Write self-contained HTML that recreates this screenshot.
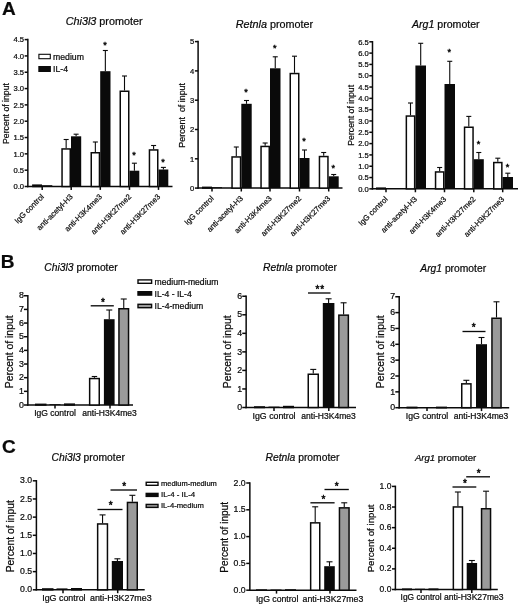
<!DOCTYPE html>
<html><head><meta charset="utf-8"><title>Figure</title>
<style>
html,body{margin:0;padding:0;background:#fff;}
body{width:520px;height:606px;overflow:hidden;font-family:"Liberation Sans",sans-serif;}
text{stroke:#0a0a0a;stroke-width:0.22px;}
svg{display:block;will-change:transform;filter:blur(0.4px);font-family:"Liberation Sans",sans-serif;}
</style></head><body>
<svg width="520" height="606" viewBox="0 0 520 606">
<rect x="0" y="0" width="520" height="606" fill="#ffffff"/>
<text xml:space="preserve" x="2.10" y="14.50" font-size="19" text-anchor="start" fill="#0a0a0a" font-weight="bold">A</text>
<text xml:space="preserve" x="0.75" y="268.10" font-size="19" text-anchor="start" fill="#0a0a0a" font-weight="bold">B</text>
<text xml:space="preserve" x="2.00" y="452.90" font-size="19" text-anchor="start" fill="#0a0a0a" font-weight="bold">C</text>
<line x1="27.85" y1="38.85" x2="27.85" y2="187.25" stroke="#0a0a0a" stroke-width="1.5"/>
<line x1="27.10" y1="186.50" x2="172.50" y2="186.50" stroke="#0a0a0a" stroke-width="1.5"/>
<line x1="24.65" y1="186.50" x2="27.85" y2="186.50" stroke="#0a0a0a" stroke-width="1.5"/>
<text xml:space="preserve" x="24.05" y="189.24" font-size="7.6" text-anchor="end" fill="#0a0a0a">0.0</text>
<line x1="24.65" y1="170.18" x2="27.85" y2="170.18" stroke="#0a0a0a" stroke-width="1.5"/>
<text xml:space="preserve" x="24.05" y="172.91" font-size="7.6" text-anchor="end" fill="#0a0a0a">0.5</text>
<line x1="24.65" y1="153.86" x2="27.85" y2="153.86" stroke="#0a0a0a" stroke-width="1.5"/>
<text xml:space="preserve" x="24.05" y="156.59" font-size="7.6" text-anchor="end" fill="#0a0a0a">1.0</text>
<line x1="24.65" y1="137.53" x2="27.85" y2="137.53" stroke="#0a0a0a" stroke-width="1.5"/>
<text xml:space="preserve" x="24.05" y="140.27" font-size="7.6" text-anchor="end" fill="#0a0a0a">1.5</text>
<line x1="24.65" y1="121.21" x2="27.85" y2="121.21" stroke="#0a0a0a" stroke-width="1.5"/>
<text xml:space="preserve" x="24.05" y="123.95" font-size="7.6" text-anchor="end" fill="#0a0a0a">2.0</text>
<line x1="24.65" y1="104.89" x2="27.85" y2="104.89" stroke="#0a0a0a" stroke-width="1.5"/>
<text xml:space="preserve" x="24.05" y="107.62" font-size="7.6" text-anchor="end" fill="#0a0a0a">2.5</text>
<line x1="24.65" y1="88.57" x2="27.85" y2="88.57" stroke="#0a0a0a" stroke-width="1.5"/>
<text xml:space="preserve" x="24.05" y="91.30" font-size="7.6" text-anchor="end" fill="#0a0a0a">3.0</text>
<line x1="24.65" y1="72.24" x2="27.85" y2="72.24" stroke="#0a0a0a" stroke-width="1.5"/>
<text xml:space="preserve" x="24.05" y="74.98" font-size="7.6" text-anchor="end" fill="#0a0a0a">3.5</text>
<line x1="24.65" y1="55.92" x2="27.85" y2="55.92" stroke="#0a0a0a" stroke-width="1.5"/>
<text xml:space="preserve" x="24.05" y="58.66" font-size="7.6" text-anchor="end" fill="#0a0a0a">4.0</text>
<line x1="24.65" y1="39.60" x2="27.85" y2="39.60" stroke="#0a0a0a" stroke-width="1.5"/>
<text xml:space="preserve" x="24.05" y="42.34" font-size="7.6" text-anchor="end" fill="#0a0a0a">4.5</text>
<text xml:space="preserve" x="8.60" y="113.50" font-size="8.7" text-anchor="middle" fill="#0a0a0a" transform="rotate(-90 8.60 113.50)">Percent of input</text>
<text x="104.10" y="25.00" font-size="10.8" text-anchor="middle" fill="#0a0a0a"><tspan font-style="italic">Chi3l3</tspan> promoter</text>
<rect x="32.85" y="185.15" width="8.40" height="1.35" fill="#fff" stroke="#0a0a0a" stroke-width="1.5"/>
<rect x="42.00" y="185.20" width="10.30" height="1.30" fill="#0a0a0a"/>
<line x1="66.15" y1="148.20" x2="66.15" y2="139.50" stroke="#0a0a0a" stroke-width="1.1"/>
<line x1="63.65" y1="139.50" x2="68.65" y2="139.50" stroke="#0a0a0a" stroke-width="1.1"/>
<rect x="62.05" y="148.95" width="8.20" height="37.55" fill="#fff" stroke="#0a0a0a" stroke-width="1.5"/>
<line x1="76.10" y1="136.30" x2="76.10" y2="134.20" stroke="#0a0a0a" stroke-width="1.1"/>
<line x1="73.60" y1="134.20" x2="78.60" y2="134.20" stroke="#0a0a0a" stroke-width="1.1"/>
<rect x="71.00" y="136.30" width="10.20" height="50.20" fill="#0a0a0a"/>
<line x1="95.35" y1="152.00" x2="95.35" y2="142.00" stroke="#0a0a0a" stroke-width="1.1"/>
<line x1="92.85" y1="142.00" x2="97.85" y2="142.00" stroke="#0a0a0a" stroke-width="1.1"/>
<rect x="91.25" y="152.75" width="8.20" height="33.75" fill="#fff" stroke="#0a0a0a" stroke-width="1.5"/>
<line x1="105.35" y1="71.20" x2="105.35" y2="50.50" stroke="#0a0a0a" stroke-width="1.1"/>
<line x1="102.85" y1="50.50" x2="107.85" y2="50.50" stroke="#0a0a0a" stroke-width="1.1"/>
<rect x="100.20" y="71.20" width="10.30" height="115.30" fill="#0a0a0a"/>
<line x1="124.50" y1="90.50" x2="124.50" y2="76.00" stroke="#0a0a0a" stroke-width="1.1"/>
<line x1="122.00" y1="76.00" x2="127.00" y2="76.00" stroke="#0a0a0a" stroke-width="1.1"/>
<rect x="120.25" y="91.25" width="8.50" height="95.25" fill="#fff" stroke="#0a0a0a" stroke-width="1.5"/>
<line x1="134.40" y1="170.70" x2="134.40" y2="163.20" stroke="#0a0a0a" stroke-width="1.1"/>
<line x1="131.90" y1="163.20" x2="136.90" y2="163.20" stroke="#0a0a0a" stroke-width="1.1"/>
<rect x="129.50" y="170.70" width="9.80" height="15.80" fill="#0a0a0a"/>
<line x1="153.60" y1="149.20" x2="153.60" y2="145.50" stroke="#0a0a0a" stroke-width="1.1"/>
<line x1="151.10" y1="145.50" x2="156.10" y2="145.50" stroke="#0a0a0a" stroke-width="1.1"/>
<rect x="149.45" y="149.95" width="8.30" height="36.55" fill="#fff" stroke="#0a0a0a" stroke-width="1.5"/>
<line x1="163.40" y1="169.50" x2="163.40" y2="167.40" stroke="#0a0a0a" stroke-width="1.1"/>
<line x1="160.90" y1="167.40" x2="165.90" y2="167.40" stroke="#0a0a0a" stroke-width="1.1"/>
<rect x="158.50" y="169.50" width="9.80" height="17.00" fill="#0a0a0a"/>
<text xml:space="preserve" x="104.90" y="48.38" font-size="9" text-anchor="middle" fill="#0a0a0a" style="stroke-width:0.45px;letter-spacing:0px">*</text>
<text xml:space="preserve" x="134.10" y="157.58" font-size="9" text-anchor="middle" fill="#0a0a0a" style="stroke-width:0.45px;letter-spacing:0px">*</text>
<text xml:space="preserve" x="163.10" y="165.18" font-size="9" text-anchor="middle" fill="#0a0a0a" style="stroke-width:0.45px;letter-spacing:0px">*</text>
<line x1="42.20" y1="186.50" x2="42.20" y2="189.90" stroke="#0a0a0a" stroke-width="1.5"/>
<line x1="71.20" y1="186.50" x2="71.20" y2="189.90" stroke="#0a0a0a" stroke-width="1.5"/>
<line x1="100.30" y1="186.50" x2="100.30" y2="189.90" stroke="#0a0a0a" stroke-width="1.5"/>
<line x1="129.50" y1="186.50" x2="129.50" y2="189.90" stroke="#0a0a0a" stroke-width="1.5"/>
<line x1="158.50" y1="186.50" x2="158.50" y2="189.90" stroke="#0a0a0a" stroke-width="1.5"/>
<text xml:space="preserve" x="44.40" y="197.30" font-size="7.7" text-anchor="end" fill="#0a0a0a" transform="rotate(-45 44.40 197.30)">IgG control</text>
<text xml:space="preserve" x="73.40" y="197.30" font-size="7.7" text-anchor="end" fill="#0a0a0a" transform="rotate(-45 73.40 197.30)">anti-acetyl-H3</text>
<text xml:space="preserve" x="102.50" y="197.30" font-size="7.7" text-anchor="end" fill="#0a0a0a" transform="rotate(-45 102.50 197.30)">anti-H3K4me3</text>
<text xml:space="preserve" x="131.70" y="197.30" font-size="7.7" text-anchor="end" fill="#0a0a0a" transform="rotate(-45 131.70 197.30)">anti-H3K27me2</text>
<text xml:space="preserve" x="160.70" y="197.30" font-size="7.7" text-anchor="end" fill="#0a0a0a" transform="rotate(-45 160.70 197.30)">anti-H3K27me3</text>
<rect x="38.9" y="54.3" width="11.4" height="4.4" fill="#fff" stroke="#0a0a0a" stroke-width="1.1"/>
<rect x="38.3" y="66" width="12.6" height="6" fill="#0a0a0a"/>
<text xml:space="preserve" x="53.00" y="60.20" font-size="8.7" text-anchor="start" fill="#0a0a0a">medium</text>
<text xml:space="preserve" x="53.00" y="72.40" font-size="8.7" text-anchor="start" fill="#0a0a0a">IL-4</text>
<line x1="198.10" y1="40.85" x2="198.10" y2="188.85" stroke="#0a0a0a" stroke-width="1.5"/>
<line x1="197.35" y1="188.10" x2="342.50" y2="188.10" stroke="#0a0a0a" stroke-width="1.5"/>
<line x1="194.90" y1="188.10" x2="198.10" y2="188.10" stroke="#0a0a0a" stroke-width="1.5"/>
<text xml:space="preserve" x="194.30" y="190.84" font-size="7.6" text-anchor="end" fill="#0a0a0a">0</text>
<line x1="194.90" y1="158.80" x2="198.10" y2="158.80" stroke="#0a0a0a" stroke-width="1.5"/>
<text xml:space="preserve" x="194.30" y="161.54" font-size="7.6" text-anchor="end" fill="#0a0a0a">1</text>
<line x1="194.90" y1="129.50" x2="198.10" y2="129.50" stroke="#0a0a0a" stroke-width="1.5"/>
<text xml:space="preserve" x="194.30" y="132.24" font-size="7.6" text-anchor="end" fill="#0a0a0a">2</text>
<line x1="194.90" y1="100.20" x2="198.10" y2="100.20" stroke="#0a0a0a" stroke-width="1.5"/>
<text xml:space="preserve" x="194.30" y="102.94" font-size="7.6" text-anchor="end" fill="#0a0a0a">3</text>
<line x1="194.90" y1="70.90" x2="198.10" y2="70.90" stroke="#0a0a0a" stroke-width="1.5"/>
<text xml:space="preserve" x="194.30" y="73.64" font-size="7.6" text-anchor="end" fill="#0a0a0a">4</text>
<line x1="194.90" y1="41.60" x2="198.10" y2="41.60" stroke="#0a0a0a" stroke-width="1.5"/>
<text xml:space="preserve" x="194.30" y="44.34" font-size="7.6" text-anchor="end" fill="#0a0a0a">5</text>
<text xml:space="preserve" x="185.50" y="115.30" font-size="8.9" text-anchor="middle" fill="#0a0a0a" transform="rotate(-90 185.50 115.30)">Percent  of input</text>
<text x="274.40" y="28.00" font-size="10.8" text-anchor="middle" fill="#0a0a0a"><tspan font-style="italic">Retnla</tspan> promoter</text>
<rect x="202.75" y="187.35" width="8.50" height="0.75" fill="#fff" stroke="#0a0a0a" stroke-width="1.5"/>
<rect x="212.00" y="187.20" width="10.00" height="0.90" fill="#0a0a0a"/>
<line x1="236.30" y1="156.20" x2="236.30" y2="147.00" stroke="#0a0a0a" stroke-width="1.1"/>
<line x1="233.80" y1="147.00" x2="238.80" y2="147.00" stroke="#0a0a0a" stroke-width="1.1"/>
<rect x="232.05" y="156.95" width="8.50" height="31.15" fill="#fff" stroke="#0a0a0a" stroke-width="1.5"/>
<line x1="246.50" y1="103.80" x2="246.50" y2="100.50" stroke="#0a0a0a" stroke-width="1.1"/>
<line x1="244.00" y1="100.50" x2="249.00" y2="100.50" stroke="#0a0a0a" stroke-width="1.1"/>
<rect x="241.30" y="103.80" width="10.40" height="84.30" fill="#0a0a0a"/>
<line x1="265.15" y1="145.70" x2="265.15" y2="143.00" stroke="#0a0a0a" stroke-width="1.1"/>
<line x1="262.65" y1="143.00" x2="267.65" y2="143.00" stroke="#0a0a0a" stroke-width="1.1"/>
<rect x="261.05" y="146.45" width="8.20" height="41.65" fill="#fff" stroke="#0a0a0a" stroke-width="1.5"/>
<line x1="275.25" y1="68.30" x2="275.25" y2="56.80" stroke="#0a0a0a" stroke-width="1.1"/>
<line x1="272.75" y1="56.80" x2="277.75" y2="56.80" stroke="#0a0a0a" stroke-width="1.1"/>
<rect x="270.00" y="68.30" width="10.50" height="119.80" fill="#0a0a0a"/>
<line x1="294.50" y1="72.80" x2="294.50" y2="56.20" stroke="#0a0a0a" stroke-width="1.1"/>
<line x1="292.00" y1="56.20" x2="297.00" y2="56.20" stroke="#0a0a0a" stroke-width="1.1"/>
<rect x="290.25" y="73.55" width="8.50" height="114.55" fill="#fff" stroke="#0a0a0a" stroke-width="1.5"/>
<line x1="304.50" y1="158.00" x2="304.50" y2="150.00" stroke="#0a0a0a" stroke-width="1.1"/>
<line x1="302.00" y1="150.00" x2="307.00" y2="150.00" stroke="#0a0a0a" stroke-width="1.1"/>
<rect x="299.50" y="158.00" width="10.00" height="30.10" fill="#0a0a0a"/>
<line x1="323.70" y1="155.80" x2="323.70" y2="152.50" stroke="#0a0a0a" stroke-width="1.1"/>
<line x1="321.20" y1="152.50" x2="326.20" y2="152.50" stroke="#0a0a0a" stroke-width="1.1"/>
<rect x="319.45" y="156.55" width="8.50" height="31.55" fill="#fff" stroke="#0a0a0a" stroke-width="1.5"/>
<line x1="333.70" y1="176.30" x2="333.70" y2="174.50" stroke="#0a0a0a" stroke-width="1.1"/>
<line x1="331.20" y1="174.50" x2="336.20" y2="174.50" stroke="#0a0a0a" stroke-width="1.1"/>
<rect x="328.70" y="176.30" width="10.00" height="11.80" fill="#0a0a0a"/>
<text xml:space="preserve" x="245.90" y="94.58" font-size="9" text-anchor="middle" fill="#0a0a0a" style="stroke-width:0.45px;letter-spacing:0px">*</text>
<text xml:space="preserve" x="274.80" y="51.38" font-size="9" text-anchor="middle" fill="#0a0a0a" style="stroke-width:0.45px;letter-spacing:0px">*</text>
<text xml:space="preserve" x="303.90" y="143.98" font-size="9" text-anchor="middle" fill="#0a0a0a" style="stroke-width:0.45px;letter-spacing:0px">*</text>
<text xml:space="preserve" x="333.30" y="170.78" font-size="9" text-anchor="middle" fill="#0a0a0a" style="stroke-width:0.45px;letter-spacing:0px">*</text>
<line x1="212.00" y1="188.10" x2="212.00" y2="191.50" stroke="#0a0a0a" stroke-width="1.5"/>
<line x1="241.30" y1="188.10" x2="241.30" y2="191.50" stroke="#0a0a0a" stroke-width="1.5"/>
<line x1="270.00" y1="188.10" x2="270.00" y2="191.50" stroke="#0a0a0a" stroke-width="1.5"/>
<line x1="299.50" y1="188.10" x2="299.50" y2="191.50" stroke="#0a0a0a" stroke-width="1.5"/>
<line x1="328.70" y1="188.10" x2="328.70" y2="191.50" stroke="#0a0a0a" stroke-width="1.5"/>
<text xml:space="preserve" x="214.20" y="198.90" font-size="7.7" text-anchor="end" fill="#0a0a0a" transform="rotate(-45 214.20 198.90)">IgG control</text>
<text xml:space="preserve" x="243.50" y="198.90" font-size="7.7" text-anchor="end" fill="#0a0a0a" transform="rotate(-45 243.50 198.90)">anti-acetyl-H3</text>
<text xml:space="preserve" x="272.20" y="198.90" font-size="7.7" text-anchor="end" fill="#0a0a0a" transform="rotate(-45 272.20 198.90)">anti-H3K4me3</text>
<text xml:space="preserve" x="301.70" y="198.90" font-size="7.7" text-anchor="end" fill="#0a0a0a" transform="rotate(-45 301.70 198.90)">anti-H3K27me2</text>
<text xml:space="preserve" x="330.90" y="198.90" font-size="7.7" text-anchor="end" fill="#0a0a0a" transform="rotate(-45 330.90 198.90)">anti-H3K27me3</text>
<line x1="372.50" y1="41.05" x2="372.50" y2="189.60" stroke="#0a0a0a" stroke-width="1.5"/>
<line x1="371.75" y1="188.85" x2="518.00" y2="188.85" stroke="#0a0a0a" stroke-width="1.5"/>
<line x1="369.30" y1="188.85" x2="372.50" y2="188.85" stroke="#0a0a0a" stroke-width="1.5"/>
<text xml:space="preserve" x="368.70" y="191.59" font-size="7.6" text-anchor="end" fill="#0a0a0a">0.0</text>
<line x1="369.30" y1="177.54" x2="372.50" y2="177.54" stroke="#0a0a0a" stroke-width="1.5"/>
<text xml:space="preserve" x="368.70" y="180.27" font-size="7.6" text-anchor="end" fill="#0a0a0a">0.5</text>
<line x1="369.30" y1="166.23" x2="372.50" y2="166.23" stroke="#0a0a0a" stroke-width="1.5"/>
<text xml:space="preserve" x="368.70" y="168.96" font-size="7.6" text-anchor="end" fill="#0a0a0a">1.0</text>
<line x1="369.30" y1="154.92" x2="372.50" y2="154.92" stroke="#0a0a0a" stroke-width="1.5"/>
<text xml:space="preserve" x="368.70" y="157.65" font-size="7.6" text-anchor="end" fill="#0a0a0a">1.5</text>
<line x1="369.30" y1="143.60" x2="372.50" y2="143.60" stroke="#0a0a0a" stroke-width="1.5"/>
<text xml:space="preserve" x="368.70" y="146.34" font-size="7.6" text-anchor="end" fill="#0a0a0a">2.0</text>
<line x1="369.30" y1="132.29" x2="372.50" y2="132.29" stroke="#0a0a0a" stroke-width="1.5"/>
<text xml:space="preserve" x="368.70" y="135.03" font-size="7.6" text-anchor="end" fill="#0a0a0a">2.5</text>
<line x1="369.30" y1="120.98" x2="372.50" y2="120.98" stroke="#0a0a0a" stroke-width="1.5"/>
<text xml:space="preserve" x="368.70" y="123.72" font-size="7.6" text-anchor="end" fill="#0a0a0a">3.0</text>
<line x1="369.30" y1="109.67" x2="372.50" y2="109.67" stroke="#0a0a0a" stroke-width="1.5"/>
<text xml:space="preserve" x="368.70" y="112.41" font-size="7.6" text-anchor="end" fill="#0a0a0a">3.5</text>
<line x1="369.30" y1="98.36" x2="372.50" y2="98.36" stroke="#0a0a0a" stroke-width="1.5"/>
<text xml:space="preserve" x="368.70" y="101.09" font-size="7.6" text-anchor="end" fill="#0a0a0a">4.0</text>
<line x1="369.30" y1="87.05" x2="372.50" y2="87.05" stroke="#0a0a0a" stroke-width="1.5"/>
<text xml:space="preserve" x="368.70" y="89.78" font-size="7.6" text-anchor="end" fill="#0a0a0a">4.5</text>
<line x1="369.30" y1="75.73" x2="372.50" y2="75.73" stroke="#0a0a0a" stroke-width="1.5"/>
<text xml:space="preserve" x="368.70" y="78.47" font-size="7.6" text-anchor="end" fill="#0a0a0a">5.0</text>
<line x1="369.30" y1="64.42" x2="372.50" y2="64.42" stroke="#0a0a0a" stroke-width="1.5"/>
<text xml:space="preserve" x="368.70" y="67.16" font-size="7.6" text-anchor="end" fill="#0a0a0a">5.5</text>
<line x1="369.30" y1="53.11" x2="372.50" y2="53.11" stroke="#0a0a0a" stroke-width="1.5"/>
<text xml:space="preserve" x="368.70" y="55.85" font-size="7.6" text-anchor="end" fill="#0a0a0a">6.0</text>
<line x1="369.30" y1="41.80" x2="372.50" y2="41.80" stroke="#0a0a0a" stroke-width="1.5"/>
<text xml:space="preserve" x="368.70" y="44.54" font-size="7.6" text-anchor="end" fill="#0a0a0a">6.5</text>
<text xml:space="preserve" x="354.00" y="115.30" font-size="8.7" text-anchor="middle" fill="#0a0a0a" transform="rotate(-90 354.00 115.30)">Percent of input</text>
<text x="445.80" y="28.20" font-size="10.6" text-anchor="middle" fill="#0a0a0a"><tspan font-style="italic">Arg1</tspan> promoter</text>
<rect x="376.75" y="188.15" width="8.50" height="0.70" fill="#fff" stroke="#0a0a0a" stroke-width="1.5"/>
<rect x="386.00" y="188.00" width="10.00" height="0.85" fill="#0a0a0a"/>
<line x1="410.50" y1="115.30" x2="410.50" y2="103.00" stroke="#0a0a0a" stroke-width="1.1"/>
<line x1="408.00" y1="103.00" x2="413.00" y2="103.00" stroke="#0a0a0a" stroke-width="1.1"/>
<rect x="406.35" y="116.05" width="8.30" height="72.80" fill="#fff" stroke="#0a0a0a" stroke-width="1.5"/>
<line x1="420.70" y1="65.50" x2="420.70" y2="43.30" stroke="#0a0a0a" stroke-width="1.1"/>
<line x1="418.20" y1="43.30" x2="423.20" y2="43.30" stroke="#0a0a0a" stroke-width="1.1"/>
<rect x="415.40" y="65.50" width="10.60" height="123.35" fill="#0a0a0a"/>
<line x1="439.65" y1="171.20" x2="439.65" y2="167.50" stroke="#0a0a0a" stroke-width="1.1"/>
<line x1="437.15" y1="167.50" x2="442.15" y2="167.50" stroke="#0a0a0a" stroke-width="1.1"/>
<rect x="435.55" y="171.95" width="8.20" height="16.90" fill="#fff" stroke="#0a0a0a" stroke-width="1.5"/>
<line x1="449.75" y1="84.00" x2="449.75" y2="61.30" stroke="#0a0a0a" stroke-width="1.1"/>
<line x1="447.25" y1="61.30" x2="452.25" y2="61.30" stroke="#0a0a0a" stroke-width="1.1"/>
<rect x="444.50" y="84.00" width="10.50" height="104.85" fill="#0a0a0a"/>
<line x1="468.80" y1="126.50" x2="468.80" y2="116.40" stroke="#0a0a0a" stroke-width="1.1"/>
<line x1="466.30" y1="116.40" x2="471.30" y2="116.40" stroke="#0a0a0a" stroke-width="1.1"/>
<rect x="464.55" y="127.25" width="8.50" height="61.60" fill="#fff" stroke="#0a0a0a" stroke-width="1.5"/>
<line x1="478.80" y1="159.20" x2="478.80" y2="152.50" stroke="#0a0a0a" stroke-width="1.1"/>
<line x1="476.30" y1="152.50" x2="481.30" y2="152.50" stroke="#0a0a0a" stroke-width="1.1"/>
<rect x="473.80" y="159.20" width="10.00" height="29.65" fill="#0a0a0a"/>
<line x1="497.80" y1="161.80" x2="497.80" y2="158.20" stroke="#0a0a0a" stroke-width="1.1"/>
<line x1="495.30" y1="158.20" x2="500.30" y2="158.20" stroke="#0a0a0a" stroke-width="1.1"/>
<rect x="493.75" y="162.55" width="8.10" height="26.30" fill="#fff" stroke="#0a0a0a" stroke-width="1.5"/>
<line x1="507.80" y1="177.00" x2="507.80" y2="173.20" stroke="#0a0a0a" stroke-width="1.1"/>
<line x1="505.30" y1="173.20" x2="510.30" y2="173.20" stroke="#0a0a0a" stroke-width="1.1"/>
<rect x="502.60" y="177.00" width="10.40" height="11.85" fill="#0a0a0a"/>
<text xml:space="preserve" x="449.20" y="54.58" font-size="9" text-anchor="middle" fill="#0a0a0a" style="stroke-width:0.45px;letter-spacing:0px">*</text>
<text xml:space="preserve" x="478.40" y="146.58" font-size="9" text-anchor="middle" fill="#0a0a0a" style="stroke-width:0.45px;letter-spacing:0px">*</text>
<text xml:space="preserve" x="507.60" y="169.58" font-size="9" text-anchor="middle" fill="#0a0a0a" style="stroke-width:0.45px;letter-spacing:0px">*</text>
<line x1="386.00" y1="188.85" x2="386.00" y2="192.25" stroke="#0a0a0a" stroke-width="1.5"/>
<line x1="415.40" y1="188.85" x2="415.40" y2="192.25" stroke="#0a0a0a" stroke-width="1.5"/>
<line x1="444.50" y1="188.85" x2="444.50" y2="192.25" stroke="#0a0a0a" stroke-width="1.5"/>
<line x1="473.80" y1="188.85" x2="473.80" y2="192.25" stroke="#0a0a0a" stroke-width="1.5"/>
<line x1="502.70" y1="188.85" x2="502.70" y2="192.25" stroke="#0a0a0a" stroke-width="1.5"/>
<text xml:space="preserve" x="388.20" y="199.65" font-size="7.7" text-anchor="end" fill="#0a0a0a" transform="rotate(-45 388.20 199.65)">IgG control</text>
<text xml:space="preserve" x="417.60" y="199.65" font-size="7.7" text-anchor="end" fill="#0a0a0a" transform="rotate(-45 417.60 199.65)">anti-acetyl-H3</text>
<text xml:space="preserve" x="446.70" y="199.65" font-size="7.7" text-anchor="end" fill="#0a0a0a" transform="rotate(-45 446.70 199.65)">anti-H3K4me3</text>
<text xml:space="preserve" x="476.00" y="199.65" font-size="7.7" text-anchor="end" fill="#0a0a0a" transform="rotate(-45 476.00 199.65)">anti-H3K27me2</text>
<text xml:space="preserve" x="504.90" y="199.65" font-size="7.7" text-anchor="end" fill="#0a0a0a" transform="rotate(-45 504.90 199.65)">anti-H3K27me3</text>
<line x1="27.85" y1="295.00" x2="27.85" y2="405.75" stroke="#0a0a0a" stroke-width="1.5"/>
<line x1="27.10" y1="405.00" x2="133.00" y2="405.00" stroke="#0a0a0a" stroke-width="1.5"/>
<line x1="23.95" y1="405.00" x2="27.85" y2="405.00" stroke="#0a0a0a" stroke-width="1.5"/>
<text xml:space="preserve" x="23.85" y="407.67" font-size="8.8" text-anchor="end" fill="#0a0a0a">0</text>
<line x1="23.95" y1="391.34" x2="27.85" y2="391.34" stroke="#0a0a0a" stroke-width="1.5"/>
<text xml:space="preserve" x="23.85" y="394.01" font-size="8.8" text-anchor="end" fill="#0a0a0a">1</text>
<line x1="23.95" y1="377.69" x2="27.85" y2="377.69" stroke="#0a0a0a" stroke-width="1.5"/>
<text xml:space="preserve" x="23.85" y="380.36" font-size="8.8" text-anchor="end" fill="#0a0a0a">2</text>
<line x1="23.95" y1="364.03" x2="27.85" y2="364.03" stroke="#0a0a0a" stroke-width="1.5"/>
<text xml:space="preserve" x="23.85" y="366.70" font-size="8.8" text-anchor="end" fill="#0a0a0a">3</text>
<line x1="23.95" y1="350.38" x2="27.85" y2="350.38" stroke="#0a0a0a" stroke-width="1.5"/>
<text xml:space="preserve" x="23.85" y="353.04" font-size="8.8" text-anchor="end" fill="#0a0a0a">4</text>
<line x1="23.95" y1="336.72" x2="27.85" y2="336.72" stroke="#0a0a0a" stroke-width="1.5"/>
<text xml:space="preserve" x="23.85" y="339.39" font-size="8.8" text-anchor="end" fill="#0a0a0a">5</text>
<line x1="23.95" y1="323.06" x2="27.85" y2="323.06" stroke="#0a0a0a" stroke-width="1.5"/>
<text xml:space="preserve" x="23.85" y="325.73" font-size="8.8" text-anchor="end" fill="#0a0a0a">6</text>
<line x1="23.95" y1="309.41" x2="27.85" y2="309.41" stroke="#0a0a0a" stroke-width="1.5"/>
<text xml:space="preserve" x="23.85" y="312.07" font-size="8.8" text-anchor="end" fill="#0a0a0a">7</text>
<line x1="23.95" y1="295.75" x2="27.85" y2="295.75" stroke="#0a0a0a" stroke-width="1.5"/>
<text xml:space="preserve" x="23.85" y="298.42" font-size="8.8" text-anchor="end" fill="#0a0a0a">8</text>
<text xml:space="preserve" x="13.00" y="351.80" font-size="10.4" text-anchor="middle" fill="#0a0a0a" transform="rotate(-90 13.00 351.80)">Percent of input</text>
<text x="81.00" y="270.80" font-size="10.3" text-anchor="middle" fill="#0a0a0a"><tspan font-style="italic">Chi3l3</tspan> promoter</text>
<rect x="35.75" y="404.35" width="10.00" height="0.65" fill="#fff" stroke="#0a0a0a" stroke-width="1.5"/>
<rect x="49.50" y="404.20" width="11.00" height="0.80" fill="#0a0a0a"/>
<rect x="64.75" y="404.15" width="9.50" height="0.85" fill="#9a9a9a" stroke="#0a0a0a" stroke-width="1.5"/>
<line x1="94.45" y1="377.80" x2="94.45" y2="376.50" stroke="#0a0a0a" stroke-width="1.1"/>
<line x1="91.75" y1="376.50" x2="97.15" y2="376.50" stroke="#0a0a0a" stroke-width="1.1"/>
<rect x="89.65" y="378.55" width="9.60" height="26.45" fill="#fff" stroke="#0a0a0a" stroke-width="1.5"/>
<line x1="109.25" y1="319.20" x2="109.25" y2="310.00" stroke="#0a0a0a" stroke-width="1.1"/>
<line x1="106.25" y1="310.00" x2="112.25" y2="310.00" stroke="#0a0a0a" stroke-width="1.1"/>
<rect x="103.90" y="319.20" width="10.70" height="85.80" fill="#0a0a0a"/>
<line x1="123.75" y1="308.00" x2="123.75" y2="299.00" stroke="#0a0a0a" stroke-width="1.1"/>
<line x1="120.75" y1="299.00" x2="126.75" y2="299.00" stroke="#0a0a0a" stroke-width="1.1"/>
<rect x="118.95" y="308.75" width="9.60" height="96.25" fill="#9a9a9a" stroke="#0a0a0a" stroke-width="1.5"/>
<line x1="90.70" y1="305.80" x2="113.80" y2="305.80" stroke="#0a0a0a" stroke-width="1.35"/>
<text xml:space="preserve" x="103.00" y="305.60" font-size="10" text-anchor="middle" fill="#0a0a0a" style="stroke-width:0.45px;letter-spacing:0px">*</text>
<line x1="55.00" y1="405.00" x2="55.00" y2="408.40" stroke="#0a0a0a" stroke-width="1.5"/>
<line x1="110.00" y1="405.00" x2="110.00" y2="408.40" stroke="#0a0a0a" stroke-width="1.5"/>
<text xml:space="preserve" x="55.10" y="416.30" font-size="8.55" text-anchor="middle" fill="#0a0a0a">IgG control</text>
<text xml:space="preserve" x="109.50" y="416.30" font-size="8.5" text-anchor="middle" fill="#0a0a0a">anti-H3K4me3</text>
<rect x="138" y="279.90000000000003" width="13.6" height="3.4" fill="#fff" stroke="#0a0a0a" stroke-width="1.4"/>
<rect x="138" y="291.7" width="13.6" height="3.4" fill="#0a0a0a" stroke="#0a0a0a" stroke-width="1.4"/>
<rect x="138" y="304.3" width="13.6" height="3.4" fill="#9a9a9a" stroke="#0a0a0a" stroke-width="1.4"/>
<text xml:space="preserve" x="154.50" y="284.60" font-size="8.6" text-anchor="start" fill="#0a0a0a">medium-medium</text>
<text xml:space="preserve" x="154.50" y="296.50" font-size="8.6" text-anchor="start" fill="#0a0a0a">IL-4 - IL-4</text>
<text xml:space="preserve" x="154.50" y="308.80" font-size="8.7" text-anchor="start" fill="#0a0a0a">IL-4-medium</text>
<line x1="246.15" y1="295.50" x2="246.15" y2="408.25" stroke="#0a0a0a" stroke-width="1.5"/>
<line x1="245.40" y1="407.50" x2="356.00" y2="407.50" stroke="#0a0a0a" stroke-width="1.5"/>
<line x1="242.25" y1="407.50" x2="246.15" y2="407.50" stroke="#0a0a0a" stroke-width="1.5"/>
<text xml:space="preserve" x="242.15" y="410.17" font-size="8.8" text-anchor="end" fill="#0a0a0a">0</text>
<line x1="242.25" y1="388.96" x2="246.15" y2="388.96" stroke="#0a0a0a" stroke-width="1.5"/>
<text xml:space="preserve" x="242.15" y="391.63" font-size="8.8" text-anchor="end" fill="#0a0a0a">1</text>
<line x1="242.25" y1="370.42" x2="246.15" y2="370.42" stroke="#0a0a0a" stroke-width="1.5"/>
<text xml:space="preserve" x="242.15" y="373.08" font-size="8.8" text-anchor="end" fill="#0a0a0a">2</text>
<line x1="242.25" y1="351.88" x2="246.15" y2="351.88" stroke="#0a0a0a" stroke-width="1.5"/>
<text xml:space="preserve" x="242.15" y="354.54" font-size="8.8" text-anchor="end" fill="#0a0a0a">3</text>
<line x1="242.25" y1="333.33" x2="246.15" y2="333.33" stroke="#0a0a0a" stroke-width="1.5"/>
<text xml:space="preserve" x="242.15" y="336.00" font-size="8.8" text-anchor="end" fill="#0a0a0a">4</text>
<line x1="242.25" y1="314.79" x2="246.15" y2="314.79" stroke="#0a0a0a" stroke-width="1.5"/>
<text xml:space="preserve" x="242.15" y="317.46" font-size="8.8" text-anchor="end" fill="#0a0a0a">5</text>
<line x1="242.25" y1="296.25" x2="246.15" y2="296.25" stroke="#0a0a0a" stroke-width="1.5"/>
<text xml:space="preserve" x="242.15" y="298.92" font-size="8.8" text-anchor="end" fill="#0a0a0a">6</text>
<text xml:space="preserve" x="231.30" y="351.80" font-size="10.4" text-anchor="middle" fill="#0a0a0a" transform="rotate(-90 231.30 351.80)">Percent of input</text>
<text x="300.00" y="271.20" font-size="10.3" text-anchor="middle" fill="#0a0a0a"><tspan font-style="italic">Retnla</tspan> promoter</text>
<rect x="254.75" y="406.95" width="9.50" height="0.55" fill="#fff" stroke="#0a0a0a" stroke-width="1.5"/>
<rect x="268.50" y="406.60" width="11.00" height="0.90" fill="#0a0a0a"/>
<rect x="283.75" y="406.55" width="9.50" height="0.95" fill="#9a9a9a" stroke="#0a0a0a" stroke-width="1.5"/>
<line x1="313.25" y1="373.50" x2="313.25" y2="369.40" stroke="#0a0a0a" stroke-width="1.1"/>
<line x1="310.25" y1="369.40" x2="316.25" y2="369.40" stroke="#0a0a0a" stroke-width="1.1"/>
<rect x="308.25" y="374.25" width="10.00" height="33.25" fill="#fff" stroke="#0a0a0a" stroke-width="1.5"/>
<line x1="328.60" y1="303.00" x2="328.60" y2="298.80" stroke="#0a0a0a" stroke-width="1.1"/>
<line x1="325.60" y1="298.80" x2="331.60" y2="298.80" stroke="#0a0a0a" stroke-width="1.1"/>
<rect x="322.80" y="303.00" width="11.60" height="104.50" fill="#0a0a0a"/>
<line x1="343.60" y1="314.40" x2="343.60" y2="302.80" stroke="#0a0a0a" stroke-width="1.1"/>
<line x1="340.60" y1="302.80" x2="346.60" y2="302.80" stroke="#0a0a0a" stroke-width="1.1"/>
<rect x="338.85" y="315.15" width="9.50" height="92.35" fill="#9a9a9a" stroke="#0a0a0a" stroke-width="1.5"/>
<line x1="308.00" y1="293.00" x2="330.50" y2="293.00" stroke="#0a0a0a" stroke-width="1.35"/>
<text xml:space="preserve" x="320.30" y="293.20" font-size="10" text-anchor="middle" fill="#0a0a0a" style="stroke-width:0.45px;letter-spacing:1.0px">**</text>
<line x1="274.00" y1="407.50" x2="274.00" y2="410.90" stroke="#0a0a0a" stroke-width="1.5"/>
<line x1="328.80" y1="407.50" x2="328.80" y2="410.90" stroke="#0a0a0a" stroke-width="1.5"/>
<text xml:space="preserve" x="274.05" y="419.00" font-size="8.8" text-anchor="middle" fill="#0a0a0a">IgG control</text>
<text xml:space="preserve" x="328.50" y="419.00" font-size="8.5" text-anchor="middle" fill="#0a0a0a">anti-H3K4me3</text>
<line x1="399.20" y1="296.00" x2="399.20" y2="408.45" stroke="#0a0a0a" stroke-width="1.5"/>
<line x1="398.45" y1="407.70" x2="509.20" y2="407.70" stroke="#0a0a0a" stroke-width="1.5"/>
<line x1="395.30" y1="407.70" x2="399.20" y2="407.70" stroke="#0a0a0a" stroke-width="1.5"/>
<text xml:space="preserve" x="395.20" y="410.37" font-size="8.8" text-anchor="end" fill="#0a0a0a">0</text>
<line x1="395.30" y1="391.85" x2="399.20" y2="391.85" stroke="#0a0a0a" stroke-width="1.5"/>
<text xml:space="preserve" x="395.20" y="394.52" font-size="8.8" text-anchor="end" fill="#0a0a0a">1</text>
<line x1="395.30" y1="376.00" x2="399.20" y2="376.00" stroke="#0a0a0a" stroke-width="1.5"/>
<text xml:space="preserve" x="395.20" y="378.67" font-size="8.8" text-anchor="end" fill="#0a0a0a">2</text>
<line x1="395.30" y1="360.15" x2="399.20" y2="360.15" stroke="#0a0a0a" stroke-width="1.5"/>
<text xml:space="preserve" x="395.20" y="362.82" font-size="8.8" text-anchor="end" fill="#0a0a0a">3</text>
<line x1="395.30" y1="344.30" x2="399.20" y2="344.30" stroke="#0a0a0a" stroke-width="1.5"/>
<text xml:space="preserve" x="395.20" y="346.97" font-size="8.8" text-anchor="end" fill="#0a0a0a">4</text>
<line x1="395.30" y1="328.45" x2="399.20" y2="328.45" stroke="#0a0a0a" stroke-width="1.5"/>
<text xml:space="preserve" x="395.20" y="331.12" font-size="8.8" text-anchor="end" fill="#0a0a0a">5</text>
<line x1="395.30" y1="312.60" x2="399.20" y2="312.60" stroke="#0a0a0a" stroke-width="1.5"/>
<text xml:space="preserve" x="395.20" y="315.27" font-size="8.8" text-anchor="end" fill="#0a0a0a">6</text>
<line x1="395.30" y1="296.75" x2="399.20" y2="296.75" stroke="#0a0a0a" stroke-width="1.5"/>
<text xml:space="preserve" x="395.20" y="299.42" font-size="8.8" text-anchor="end" fill="#0a0a0a">7</text>
<text xml:space="preserve" x="384.35" y="351.80" font-size="10.4" text-anchor="middle" fill="#0a0a0a" transform="rotate(-90 384.35 351.80)">Percent of input</text>
<text x="453.20" y="272.00" font-size="10.3" text-anchor="middle" fill="#0a0a0a"><tspan font-style="italic">Arg1</tspan> promoter</text>
<rect x="407.25" y="407.35" width="9.50" height="0.35" fill="#fff" stroke="#0a0a0a" stroke-width="1.5"/>
<rect x="421.00" y="407.00" width="11.00" height="0.70" fill="#0a0a0a"/>
<rect x="436.75" y="407.35" width="9.50" height="0.35" fill="#9a9a9a" stroke="#0a0a0a" stroke-width="1.5"/>
<line x1="466.35" y1="383.10" x2="466.35" y2="380.30" stroke="#0a0a0a" stroke-width="1.1"/>
<line x1="463.35" y1="380.30" x2="469.35" y2="380.30" stroke="#0a0a0a" stroke-width="1.1"/>
<rect x="461.75" y="383.85" width="9.20" height="23.85" fill="#fff" stroke="#0a0a0a" stroke-width="1.5"/>
<line x1="481.50" y1="344.20" x2="481.50" y2="337.50" stroke="#0a0a0a" stroke-width="1.1"/>
<line x1="478.50" y1="337.50" x2="484.50" y2="337.50" stroke="#0a0a0a" stroke-width="1.1"/>
<rect x="476.00" y="344.20" width="11.00" height="63.50" fill="#0a0a0a"/>
<line x1="496.50" y1="317.50" x2="496.50" y2="301.80" stroke="#0a0a0a" stroke-width="1.1"/>
<line x1="493.50" y1="301.80" x2="499.50" y2="301.80" stroke="#0a0a0a" stroke-width="1.1"/>
<rect x="491.95" y="318.25" width="9.10" height="89.45" fill="#9a9a9a" stroke="#0a0a0a" stroke-width="1.5"/>
<line x1="462.50" y1="331.50" x2="485.50" y2="331.50" stroke="#0a0a0a" stroke-width="1.35"/>
<text xml:space="preserve" x="473.80" y="331.40" font-size="10" text-anchor="middle" fill="#0a0a0a" style="stroke-width:0.45px;letter-spacing:0px">*</text>
<line x1="427.00" y1="407.70" x2="427.00" y2="411.10" stroke="#0a0a0a" stroke-width="1.5"/>
<line x1="481.50" y1="407.70" x2="481.50" y2="411.10" stroke="#0a0a0a" stroke-width="1.5"/>
<text xml:space="preserve" x="427.00" y="419.00" font-size="8.7" text-anchor="middle" fill="#0a0a0a">IgG control</text>
<text xml:space="preserve" x="481.00" y="419.00" font-size="8.5" text-anchor="middle" fill="#0a0a0a">anti-H3K4me3</text>
<line x1="36.40" y1="480.05" x2="36.40" y2="590.55" stroke="#0a0a0a" stroke-width="1.5"/>
<line x1="35.65" y1="589.80" x2="144.70" y2="589.80" stroke="#0a0a0a" stroke-width="1.5"/>
<line x1="32.80" y1="589.80" x2="36.40" y2="589.80" stroke="#0a0a0a" stroke-width="1.5"/>
<text xml:space="preserve" x="32.20" y="592.43" font-size="8.7" text-anchor="end" fill="#0a0a0a">0.0</text>
<line x1="32.80" y1="571.63" x2="36.40" y2="571.63" stroke="#0a0a0a" stroke-width="1.5"/>
<text xml:space="preserve" x="32.20" y="574.27" font-size="8.7" text-anchor="end" fill="#0a0a0a">0.5</text>
<line x1="32.80" y1="553.47" x2="36.40" y2="553.47" stroke="#0a0a0a" stroke-width="1.5"/>
<text xml:space="preserve" x="32.20" y="556.10" font-size="8.7" text-anchor="end" fill="#0a0a0a">1.0</text>
<line x1="32.80" y1="535.30" x2="36.40" y2="535.30" stroke="#0a0a0a" stroke-width="1.5"/>
<text xml:space="preserve" x="32.20" y="537.93" font-size="8.7" text-anchor="end" fill="#0a0a0a">1.5</text>
<line x1="32.80" y1="517.13" x2="36.40" y2="517.13" stroke="#0a0a0a" stroke-width="1.5"/>
<text xml:space="preserve" x="32.20" y="519.77" font-size="8.7" text-anchor="end" fill="#0a0a0a">2.0</text>
<line x1="32.80" y1="498.97" x2="36.40" y2="498.97" stroke="#0a0a0a" stroke-width="1.5"/>
<text xml:space="preserve" x="32.20" y="501.60" font-size="8.7" text-anchor="end" fill="#0a0a0a">2.5</text>
<line x1="32.80" y1="480.80" x2="36.40" y2="480.80" stroke="#0a0a0a" stroke-width="1.5"/>
<text xml:space="preserve" x="32.20" y="483.43" font-size="8.7" text-anchor="end" fill="#0a0a0a">3.0</text>
<text xml:space="preserve" x="14.20" y="536.30" font-size="10.3" text-anchor="middle" fill="#0a0a0a" transform="rotate(-90 14.20 536.30)">Percent of input</text>
<text x="88.20" y="460.80" font-size="10.3" text-anchor="middle" fill="#0a0a0a"><tspan font-style="italic">Chi3l3</tspan> promoter</text>
<rect x="42.75" y="588.95" width="10.00" height="0.85" fill="#fff" stroke="#0a0a0a" stroke-width="1.5"/>
<rect x="56.50" y="588.40" width="11.00" height="1.40" fill="#0a0a0a"/>
<rect x="71.75" y="588.75" width="9.50" height="1.05" fill="#9a9a9a" stroke="#0a0a0a" stroke-width="1.5"/>
<line x1="102.55" y1="523.20" x2="102.55" y2="514.90" stroke="#0a0a0a" stroke-width="1.1"/>
<line x1="99.55" y1="514.90" x2="105.55" y2="514.90" stroke="#0a0a0a" stroke-width="1.1"/>
<rect x="97.65" y="523.95" width="9.80" height="65.85" fill="#fff" stroke="#0a0a0a" stroke-width="1.5"/>
<line x1="117.40" y1="561.00" x2="117.40" y2="558.80" stroke="#0a0a0a" stroke-width="1.1"/>
<line x1="114.40" y1="558.80" x2="120.40" y2="558.80" stroke="#0a0a0a" stroke-width="1.1"/>
<rect x="111.80" y="561.00" width="11.20" height="28.80" fill="#0a0a0a"/>
<line x1="132.35" y1="501.70" x2="132.35" y2="495.30" stroke="#0a0a0a" stroke-width="1.1"/>
<line x1="129.35" y1="495.30" x2="135.35" y2="495.30" stroke="#0a0a0a" stroke-width="1.1"/>
<rect x="127.45" y="502.45" width="9.80" height="87.35" fill="#9a9a9a" stroke="#0a0a0a" stroke-width="1.5"/>
<line x1="97.50" y1="509.50" x2="122.50" y2="509.50" stroke="#0a0a0a" stroke-width="1.35"/>
<text xml:space="preserve" x="110.80" y="509.40" font-size="10" text-anchor="middle" fill="#0a0a0a" style="stroke-width:0.45px;letter-spacing:0px">*</text>
<line x1="110.50" y1="490.00" x2="137.00" y2="490.00" stroke="#0a0a0a" stroke-width="1.35"/>
<text xml:space="preserve" x="124.30" y="489.90" font-size="10" text-anchor="middle" fill="#0a0a0a" style="stroke-width:0.45px;letter-spacing:0px">*</text>
<line x1="63.00" y1="589.80" x2="63.00" y2="593.20" stroke="#0a0a0a" stroke-width="1.5"/>
<line x1="117.70" y1="589.80" x2="117.70" y2="593.20" stroke="#0a0a0a" stroke-width="1.5"/>
<text xml:space="preserve" x="63.90" y="601.10" font-size="8.9" text-anchor="middle" fill="#0a0a0a">IgG control</text>
<text xml:space="preserve" x="120.80" y="601.10" font-size="8.9" text-anchor="middle" fill="#0a0a0a">anti-H3K27me3</text>
<rect x="146.2" y="482.3" width="11.8" height="3.0" fill="#fff" stroke="#0a0a0a" stroke-width="1.4"/>
<rect x="146.2" y="493.4" width="11.8" height="3.0" fill="#0a0a0a" stroke="#0a0a0a" stroke-width="1.4"/>
<rect x="146.2" y="504.4" width="11.8" height="3.0" fill="#9a9a9a" stroke="#0a0a0a" stroke-width="1.4"/>
<text xml:space="preserve" x="161.00" y="486.10" font-size="7.5" text-anchor="start" fill="#0a0a0a">medium-medium</text>
<text xml:space="preserve" x="161.00" y="497.20" font-size="7.9" text-anchor="start" fill="#0a0a0a">IL-4 - IL-4</text>
<text xml:space="preserve" x="161.00" y="508.10" font-size="7.65" text-anchor="start" fill="#0a0a0a">IL-4-medium</text>
<line x1="249.85" y1="482.25" x2="249.85" y2="590.95" stroke="#0a0a0a" stroke-width="1.5"/>
<line x1="249.10" y1="590.20" x2="356.50" y2="590.20" stroke="#0a0a0a" stroke-width="1.5"/>
<line x1="246.25" y1="590.20" x2="249.85" y2="590.20" stroke="#0a0a0a" stroke-width="1.5"/>
<text xml:space="preserve" x="245.65" y="592.83" font-size="8.7" text-anchor="end" fill="#0a0a0a">0.0</text>
<line x1="246.25" y1="563.40" x2="249.85" y2="563.40" stroke="#0a0a0a" stroke-width="1.5"/>
<text xml:space="preserve" x="245.65" y="566.03" font-size="8.7" text-anchor="end" fill="#0a0a0a">0.5</text>
<line x1="246.25" y1="536.60" x2="249.85" y2="536.60" stroke="#0a0a0a" stroke-width="1.5"/>
<text xml:space="preserve" x="245.65" y="539.23" font-size="8.7" text-anchor="end" fill="#0a0a0a">1.0</text>
<line x1="246.25" y1="509.80" x2="249.85" y2="509.80" stroke="#0a0a0a" stroke-width="1.5"/>
<text xml:space="preserve" x="245.65" y="512.43" font-size="8.7" text-anchor="end" fill="#0a0a0a">1.5</text>
<line x1="246.25" y1="483.00" x2="249.85" y2="483.00" stroke="#0a0a0a" stroke-width="1.5"/>
<text xml:space="preserve" x="245.65" y="485.63" font-size="8.7" text-anchor="end" fill="#0a0a0a">2.0</text>
<text xml:space="preserve" x="228.00" y="537.30" font-size="10.1" text-anchor="middle" fill="#0a0a0a" transform="rotate(-90 228.00 537.30)">Percent of input</text>
<text x="302.50" y="461.30" font-size="10.3" text-anchor="middle" fill="#0a0a0a"><tspan font-style="italic">Retnla</tspan> promoter</text>
<rect x="256.75" y="590.05" width="9.50" height="0.15" fill="#fff" stroke="#0a0a0a" stroke-width="1.5"/>
<rect x="270.50" y="589.50" width="11.00" height="0.70" fill="#0a0a0a"/>
<rect x="285.75" y="589.95" width="9.50" height="0.25" fill="#9a9a9a" stroke="#0a0a0a" stroke-width="1.5"/>
<line x1="315.20" y1="522.10" x2="315.20" y2="506.80" stroke="#0a0a0a" stroke-width="1.1"/>
<line x1="312.20" y1="506.80" x2="318.20" y2="506.80" stroke="#0a0a0a" stroke-width="1.1"/>
<rect x="310.65" y="522.85" width="9.10" height="67.35" fill="#fff" stroke="#0a0a0a" stroke-width="1.5"/>
<line x1="329.50" y1="566.20" x2="329.50" y2="561.80" stroke="#0a0a0a" stroke-width="1.1"/>
<line x1="326.50" y1="561.80" x2="332.50" y2="561.80" stroke="#0a0a0a" stroke-width="1.1"/>
<rect x="324.20" y="566.20" width="10.60" height="24.00" fill="#0a0a0a"/>
<line x1="344.25" y1="507.10" x2="344.25" y2="502.80" stroke="#0a0a0a" stroke-width="1.1"/>
<line x1="341.25" y1="502.80" x2="347.25" y2="502.80" stroke="#0a0a0a" stroke-width="1.1"/>
<rect x="339.45" y="507.85" width="9.60" height="82.35" fill="#9a9a9a" stroke="#0a0a0a" stroke-width="1.5"/>
<line x1="310.40" y1="502.80" x2="334.60" y2="502.80" stroke="#0a0a0a" stroke-width="1.35"/>
<text xml:space="preserve" x="323.40" y="502.60" font-size="10" text-anchor="middle" fill="#0a0a0a" style="stroke-width:0.45px;letter-spacing:0px">*</text>
<line x1="324.50" y1="489.50" x2="348.80" y2="489.50" stroke="#0a0a0a" stroke-width="1.35"/>
<text xml:space="preserve" x="336.80" y="489.80" font-size="10" text-anchor="middle" fill="#0a0a0a" style="stroke-width:0.45px;letter-spacing:0px">*</text>
<line x1="276.50" y1="590.20" x2="276.50" y2="593.60" stroke="#0a0a0a" stroke-width="1.5"/>
<line x1="330.00" y1="590.20" x2="330.00" y2="593.60" stroke="#0a0a0a" stroke-width="1.5"/>
<text xml:space="preserve" x="277.15" y="601.60" font-size="8.7" text-anchor="middle" fill="#0a0a0a">IgG control</text>
<text xml:space="preserve" x="332.95" y="601.60" font-size="8.75" text-anchor="middle" fill="#0a0a0a">anti-H3K27me3</text>
<line x1="395.40" y1="485.65" x2="395.40" y2="590.25" stroke="#0a0a0a" stroke-width="1.5"/>
<line x1="394.65" y1="589.50" x2="497.80" y2="589.50" stroke="#0a0a0a" stroke-width="1.5"/>
<line x1="392.00" y1="589.50" x2="395.40" y2="589.50" stroke="#0a0a0a" stroke-width="1.5"/>
<text xml:space="preserve" x="391.40" y="592.06" font-size="8.5" text-anchor="end" fill="#0a0a0a">0.0</text>
<line x1="392.00" y1="568.88" x2="395.40" y2="568.88" stroke="#0a0a0a" stroke-width="1.5"/>
<text xml:space="preserve" x="391.40" y="571.44" font-size="8.5" text-anchor="end" fill="#0a0a0a">0.2</text>
<line x1="392.00" y1="548.26" x2="395.40" y2="548.26" stroke="#0a0a0a" stroke-width="1.5"/>
<text xml:space="preserve" x="391.40" y="550.82" font-size="8.5" text-anchor="end" fill="#0a0a0a">0.4</text>
<line x1="392.00" y1="527.64" x2="395.40" y2="527.64" stroke="#0a0a0a" stroke-width="1.5"/>
<text xml:space="preserve" x="391.40" y="530.20" font-size="8.5" text-anchor="end" fill="#0a0a0a">0.6</text>
<line x1="392.00" y1="507.02" x2="395.40" y2="507.02" stroke="#0a0a0a" stroke-width="1.5"/>
<text xml:space="preserve" x="391.40" y="509.58" font-size="8.5" text-anchor="end" fill="#0a0a0a">0.8</text>
<line x1="392.00" y1="486.40" x2="395.40" y2="486.40" stroke="#0a0a0a" stroke-width="1.5"/>
<text xml:space="preserve" x="391.40" y="488.96" font-size="8.5" text-anchor="end" fill="#0a0a0a">1.0</text>
<text xml:space="preserve" x="374.30" y="538.40" font-size="9.7" text-anchor="middle" fill="#0a0a0a" transform="rotate(-90 374.30 538.40)">Percent of input</text>
<text x="445.60" y="461.30" font-size="9.6" text-anchor="middle" fill="#0a0a0a"><tspan font-style="italic">Arg1</tspan> promoter</text>
<rect x="402.75" y="589.15" width="8.50" height="0.35" fill="#fff" stroke="#0a0a0a" stroke-width="1.5"/>
<rect x="415.00" y="588.70" width="10.00" height="0.80" fill="#0a0a0a"/>
<rect x="429.25" y="589.15" width="8.50" height="0.35" fill="#9a9a9a" stroke="#0a0a0a" stroke-width="1.5"/>
<line x1="457.90" y1="506.20" x2="457.90" y2="492.00" stroke="#0a0a0a" stroke-width="1.1"/>
<line x1="454.90" y1="492.00" x2="460.90" y2="492.00" stroke="#0a0a0a" stroke-width="1.1"/>
<rect x="453.35" y="506.95" width="9.10" height="82.55" fill="#fff" stroke="#0a0a0a" stroke-width="1.5"/>
<line x1="471.90" y1="563.00" x2="471.90" y2="560.50" stroke="#0a0a0a" stroke-width="1.1"/>
<line x1="468.90" y1="560.50" x2="474.90" y2="560.50" stroke="#0a0a0a" stroke-width="1.1"/>
<rect x="466.70" y="563.00" width="10.40" height="26.50" fill="#0a0a0a"/>
<line x1="486.05" y1="508.00" x2="486.05" y2="491.20" stroke="#0a0a0a" stroke-width="1.1"/>
<line x1="483.05" y1="491.20" x2="489.05" y2="491.20" stroke="#0a0a0a" stroke-width="1.1"/>
<rect x="481.55" y="508.75" width="9.00" height="80.75" fill="#9a9a9a" stroke="#0a0a0a" stroke-width="1.5"/>
<line x1="452.50" y1="487.00" x2="476.30" y2="487.00" stroke="#0a0a0a" stroke-width="1.35"/>
<text xml:space="preserve" x="465.00" y="487.20" font-size="10" text-anchor="middle" fill="#0a0a0a" style="stroke-width:0.45px;letter-spacing:0px">*</text>
<line x1="466.20" y1="476.80" x2="490.00" y2="476.80" stroke="#0a0a0a" stroke-width="1.35"/>
<text xml:space="preserve" x="478.80" y="476.80" font-size="10" text-anchor="middle" fill="#0a0a0a" style="stroke-width:0.45px;letter-spacing:0px">*</text>
<line x1="421.00" y1="589.50" x2="421.00" y2="592.90" stroke="#0a0a0a" stroke-width="1.5"/>
<line x1="471.80" y1="589.50" x2="471.80" y2="592.90" stroke="#0a0a0a" stroke-width="1.5"/>
<text xml:space="preserve" x="421.05" y="600.30" font-size="8.4" text-anchor="middle" fill="#0a0a0a">IgG control</text>
<text xml:space="preserve" x="473.80" y="600.30" font-size="8.6" text-anchor="middle" fill="#0a0a0a">anti-H3K27me3</text>
</svg>
</body></html>
